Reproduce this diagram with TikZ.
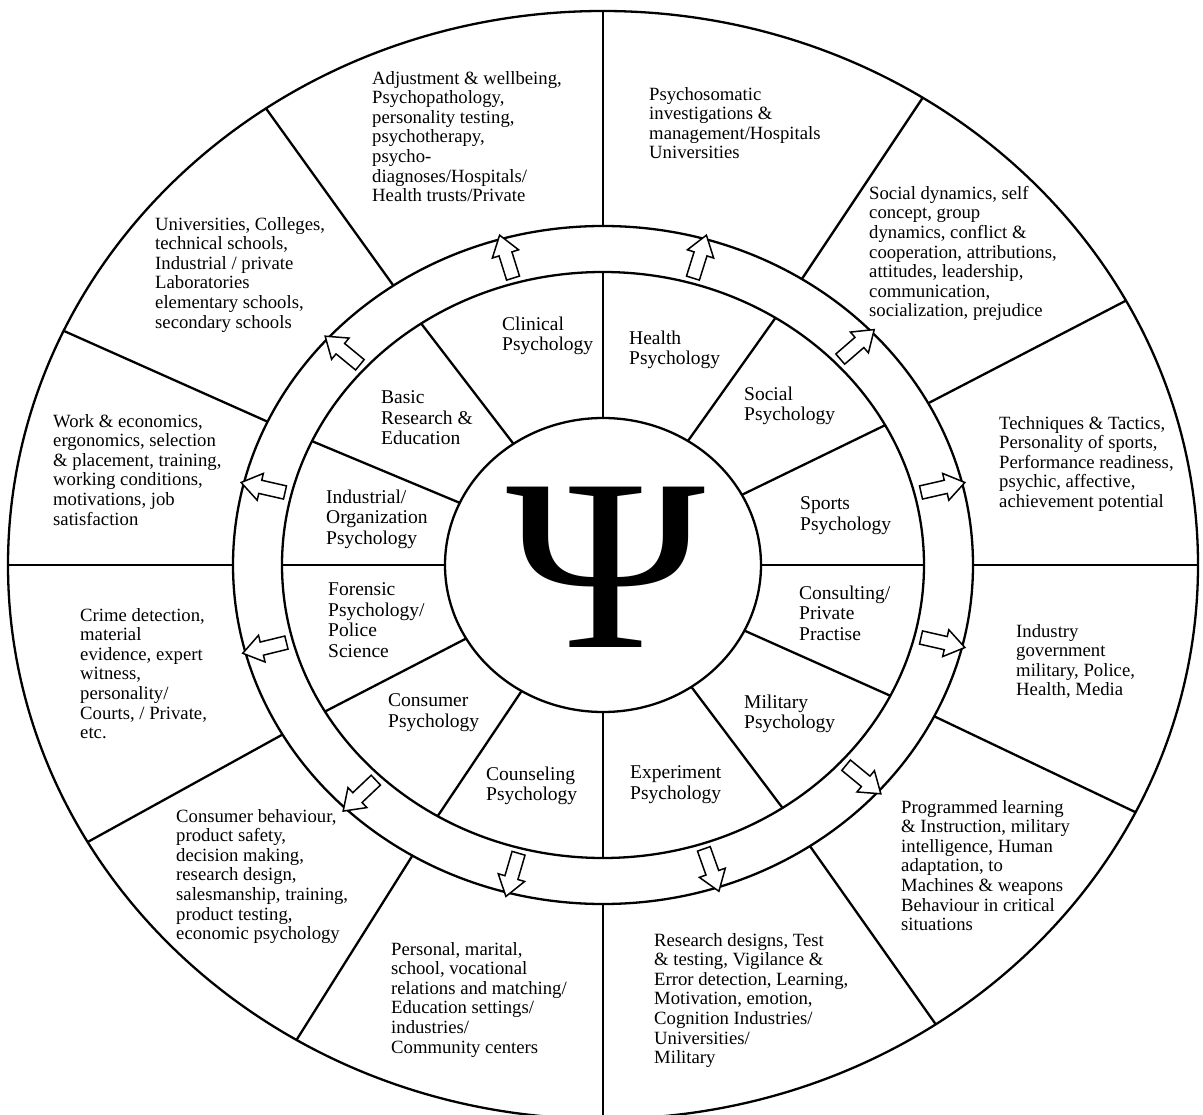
\documentclass[tikz,border=0pt]{standalone}
\usepackage{fontspec}
\setmainfont{Liberation Serif}
\usetikzlibrary{shapes.arrows}
\begin{document}
\begin{tikzpicture}[x=1pt,y=-1pt,
  ring/.style={line width=2.3pt},
  divider/.style={line width=2.3pt},
  blockarr/.style={single arrow, draw, fill=white, line width=1.5pt,
    minimum height=45pt, inner sep=6pt, single arrow head extend=7pt,
    single arrow tip angle=70},
  outtxt/.style={anchor=north west, inner sep=0pt, align=left,
    font=\fontsize{18.7}{19.6}\selectfont},
  intxt/.style={anchor=north west, inner sep=0pt, align=left,
    font=\fontsize{19.5}{20.6}\selectfont}]
\useasboundingbox (0,0) rectangle (1203,1115);
\fill[white] (0,0) rectangle (1203,1115);
\clip (0,0) rectangle (1203,1115);

% ellipses
\draw[ring] (603,565) ellipse [x radius=595pt, y radius=554pt];
\draw[ring] (603,565) ellipse [x radius=370pt, y radius=339pt];
\draw[ring] (603,565) ellipse [x radius=321pt, y radius=293pt];
\draw[ring] (603,565) ellipse [x radius=158pt, y radius=147pt];

% dividers
\foreach \t [count=\i] in {90,57.5,28.5,0,-26.5,-56,-90,-121,-150,180,155,124.5} {
  \coordinate (a\i) at ({603+158*cos(\t)},{565-147*sin(\t)});
  \coordinate (b\i) at ({603+321*cos(\t)},{565-293*sin(\t)});
  \coordinate (c\i) at ({603+370*cos(\t)},{565-339*sin(\t)});
  \coordinate (d\i) at ({603+595*cos(\t)},{565-554*sin(\t)});
  \draw[divider] (a\i) -- (b\i) (c\i) -- (d\i);
}

% arrows
\foreach \t [count=\i] in {106,74,43.5,14,-14,-42,-72,-105,-134,-165,166,138} {
  \node[blockarr, rotate={atan2(316*sin(\t),345.5*cos(\t))}] (arr\i)
    at ({603+345.5*cos(\t)},{565-316*sin(\t)}) {};
}

% psi
\node[inner sep=0pt, xscale=1.1, font=\fontsize{245}{245}\selectfont] (psi) at (606,567) {Ψ};

% inner texts
\node[intxt] (i1) at (502,316.5) {Clinical\\Psychology};
\node[intxt] (i2) at (629,330.5) {Health\\Psychology};
\node[intxt] (i3) at (744,386.5) {Social\\Psychology};
\node[intxt] (i4) at (800,496.5) {Sports\\Psychology};
\node[intxt] (i5) at (799,585.5) {Consulting/\\Private\\Practise};
\node[intxt] (i6) at (744,694.5) {Military\\Psychology};
\node[intxt] (i7) at (630,765.5) {Experiment\\Psychology};
\node[intxt] (i8) at (486,766.5) {Counseling\\Psychology};
\node[intxt] (i9) at (388,693.5) {Consumer\\Psychology};
\node[intxt] (i10) at (328,582.5) {Forensic\\Psychology/\\Police\\Science};
\node[intxt] (i11) at (326,489.5) {Industrial/\\Organization\\Psychology};
\node[intxt] (i12) at (381,390.5) {Basic\\Research \&\\Education};

% outer texts
\node[outtxt] (o1) at (372,71) {Adjustment \& wellbeing,\\Psychopathology,\\personality testing,\\psychotherapy,\\psycho-\\diagnoses/Hospitals/\\Health trusts/Private};
\node[outtxt] (o2) at (649,87) {Psychosomatic\\investigations \&\\management/Hospitals\\Universities};
\node[outtxt] (o3) at (869,186) {Social dynamics, self\\concept, group\\dynamics, conflict \&\\cooperation, attributions,\\attitudes, leadership,\\communication,\\socialization, prejudice};
\node[outtxt] (o4) at (999,416) {Techniques \& Tactics,\\Personality of sports,\\Performance readiness,\\psychic, affective,\\achievement potential};
\node[outtxt] (o5) at (1016,624) {Industry\\government\\military, Police,\\Health, Media};
\node[outtxt] (o6) at (901,800) {Programmed learning\\\& Instruction, military\\intelligence, Human\\adaptation, to\\Machines \& weapons\\Behaviour in critical\\situations};
\node[outtxt] (o7) at (654,933) {Research designs, Test\\\& testing, Vigilance \&\\Error detection, Learning,\\Motivation, emotion,\\Cognition Industries/\\Universities/\\Military};
\node[outtxt] (o8) at (391,942) {Personal, marital,\\school, vocational\\relations and matching/\\Education settings/\\industries/\\Community centers};
\node[outtxt] (o9) at (176,809) {Consumer behaviour,\\product safety,\\decision making,\\research design,\\salesmanship, training,\\product testing,\\economic psychology};
\node[outtxt] (o10) at (80,608) {Crime detection,\\material\\evidence, expert\\witness,\\personality/\\Courts, / Private,\\etc.};
\node[outtxt] (o11) at (53,414) {Work \& economics,\\ergonomics, selection\\\& placement, training,\\working conditions,\\motivations, job\\satisfaction};
\node[outtxt] (o12) at (155,217) {Universities, Colleges,\\technical schools,\\Industrial / private\\Laboratories\\elementary schools,\\secondary schools};
\end{tikzpicture}
\end{document}
